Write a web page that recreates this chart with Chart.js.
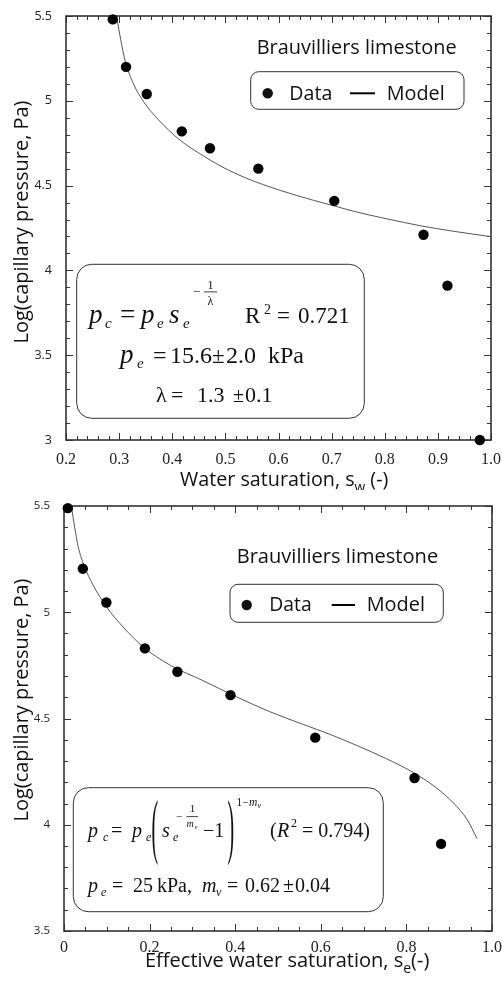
<!DOCTYPE html>
<html>
<head>
<meta charset="utf-8">
<script src="https://cdn.jsdelivr.net/npm/chart.js@4.4.0/dist/chart.umd.min.js"></script>
<style>
  html, body { margin: 0; padding: 0; background: #fff; }
  canvas { display: block; }
</style>
</head>
<body>
<canvas id="sw-chart" width="502" height="490"></canvas>
<canvas id="se-chart" width="502" height="495"></canvas>
<script>
// Datos medidos (log10 de la presión capilar en Pa)
const swData = [0.288, 0.313, 0.352, 0.418, 0.471, 0.562, 0.705, 0.873, 0.918, 0.979];
const logPcData = [5.48, 5.20, 5.04, 4.82, 4.72, 4.60, 4.41, 4.21, 3.91, 3.00];

// Curva del modelo Brooks-Corey
const swModel = [0.295, 0.303, 0.311, 0.327, 0.346, 0.374, 0.415, 0.452, 0.490, 0.540, 0.603, 0.666, 0.710, 0.741, 0.804, 0.866, 0.929, 1.000];
const logPcModelSw = [5.50, 5.36, 5.24, 5.10, 4.995, 4.888, 4.767, 4.688, 4.617, 4.543, 4.472, 4.413, 4.376, 4.349, 4.304, 4.264, 4.231, 4.199];

// Saturación efectiva
const seData = [0.009, 0.044, 0.099, 0.189, 0.265, 0.389, 0.587, 0.819, 0.881];
const logPcDataSe = [5.49, 5.205, 5.046, 4.83, 4.72, 4.61, 4.41, 4.22, 3.91];

// Curva del modelo van Genuchten
const seModel = [0.017, 0.025, 0.033, 0.048, 0.068, 0.099, 0.138, 0.185, 0.247, 0.325, 0.403, 0.481, 0.559, 0.622, 0.676, 0.754, 0.817, 0.871, 0.910, 0.942, 0.965];
const logPcModelSe = [5.50, 5.40, 5.31, 5.214, 5.128, 5.026, 4.931, 4.837, 4.752, 4.678, 4.602, 4.532, 4.472, 4.425, 4.380, 4.310, 4.245, 4.172, 4.102, 4.024, 3.935];

// Marcas de los ejes
const xTicksSw = [0.2, 0.3, 0.4, 0.5, 0.6, 0.7, 0.8, 0.9, 1.0];
const xLabelsSw = ['0.2', '0.3', '0.4', '0.5', '0.6', '0.7', '0.8', '0.9', '1.0'];
const yTicksSw = [3, 3.5, 4, 4.5, 5, 5.5];
const yLabelsSw = ['3', '3.5', '4', '4.5', '5', '5.5'];
const xTicksSe = [0, 0.2, 0.4, 0.6, 0.8, 1.0];
const xLabelsSe = ['0', '0.2', '0.4', '0.6', '0.8', '1.0'];
const yTicksSe = [3.5, 4, 4.5, 5, 5.5];
const yLabelsSe = ['3.5', '4', '4.5', '5', '5.5'];

const SANS = '"Open Sans", "Noto Sans", sans-serif';
const SERIF = '"Liberation Serif", "Times New Roman", serif';
const INK = '#111';

function toPoints(xs, ys) {
    return xs.map((x, i) => ({ x: x, y: ys[i] }));
}

// Texto simple
function put(ctx, text, x, y, size, style, family, align) {
    ctx.font = (style || 'normal') + ' ' + size + 'px ' + (family || SERIF);
    ctx.textAlign = align || 'left';
    ctx.textBaseline = 'alphabetic';
    ctx.fillText(text, x, y);
}

// Tamaño de letra para que el texto ocupe un ancho dado
function fitSize(ctx, text, width, family) {
    ctx.font = 'normal 100px ' + family;
    return 100 * width / ctx.measureText(text).width;
}

function roundBox(ctx, x0, y0, x1, y1, r) {
    ctx.beginPath();
    ctx.moveTo(x0 + r, y0);
    ctx.arcTo(x1, y0, x1, y1, r);
    ctx.arcTo(x1, y1, x0, y1, r);
    ctx.arcTo(x0, y1, x0, y0, r);
    ctx.arcTo(x0, y0, x1, y0, r);
    ctx.closePath();
    ctx.stroke();
}

// Paréntesis alto (texto estirado en vertical)
function bigParen(ctx, ch, x, yTop, yBot) {
    const s = 20;
    ctx.save();
    ctx.translate(x, yTop);
    ctx.scale(1, (yBot - yTop) / (0.871 * s));
    ctx.font = 'normal ' + s + 'px ' + SERIF;
    ctx.textAlign = 'left';
    ctx.textBaseline = 'alphabetic';
    ctx.fillText(ch, 0, 0.694 * s);
    ctx.restore();
}

// Texto con subíndice, ajustado a un ancho
function richLine(ctx, parts, x, y, width, family) {
    const total = parts.map(p => p.t).join('');
    const size = fitSize(ctx, total, width, family);
    let cx = x;
    parts.forEach(p => {
        const s = p.sub ? size * 0.7 : size;
        ctx.font = 'normal ' + s + 'px ' + family;
        ctx.textAlign = 'left';
        ctx.textBaseline = 'alphabetic';
        ctx.fillText(p.t, cx, p.sub ? y + size * 0.3 : y);
        cx += ctx.measureText(p.t).width;
    });
}

function yTitle(ctx, text, cx, cy, length) {
    const size = fitSize(ctx, text, length, SANS);
    ctx.save();
    ctx.translate(cx, cy);
    ctx.rotate(-Math.PI / 2);
    ctx.font = 'normal ' + size + 'px ' + SANS;
    ctx.textAlign = 'center';
    ctx.textBaseline = 'middle';
    ctx.fillText(text, 0, 0);
    ctx.restore();
}

function legendBlock(ctx, L) {
    ctx.fillStyle = INK;
    put(ctx, 'Brauvilliers limestone', L.titleX, L.titleY, fitSize(ctx, 'Brauvilliers limestone', L.titleW, SANS), 'normal', SANS);
    ctx.strokeStyle = '#333';
    ctx.lineWidth = 1;
    roundBox(ctx, L.box[0], L.box[1], L.box[2], L.box[3], 8);
    ctx.beginPath();
    ctx.arc(L.dotX, L.dotY, 5.2, 0, Math.PI * 2);
    ctx.fill();
    put(ctx, 'Data', L.dataX, L.textY, fitSize(ctx, 'Data', L.dataW, SANS), 'normal', SANS);
    ctx.lineWidth = 2;
    ctx.strokeStyle = '#000';
    ctx.beginPath();
    ctx.moveTo(L.lineX0, L.dotY);
    ctx.lineTo(L.lineX1, L.dotY);
    ctx.stroke();
    put(ctx, 'Model', L.modelX, L.textY, fitSize(ctx, 'Model', L.modelW, SANS), 'normal', SANS);
}

// Marco y marcas hacia dentro en los cuatro lados
function frameTicks(xMajors, xDiv, yMajors, yDiv) {
    return {
        id: 'frameTicks',
        beforeDatasetsDraw(chart) {
            const { ctx, chartArea: a, scales: { x, y } } = chart;
            ctx.save();
            ctx.strokeStyle = '#333';
            ctx.lineWidth = 1;
            ctx.beginPath();
            function vx(v, len) {
                const px = Math.round(x.getPixelForValue(v)) + 0.5;
                ctx.moveTo(px, a.bottom); ctx.lineTo(px, a.bottom - len);
                ctx.moveTo(px, a.top); ctx.lineTo(px, a.top + len);
            }
            function hy(v, len) {
                const py = Math.round(y.getPixelForValue(v)) + 0.5;
                ctx.moveTo(a.left, py); ctx.lineTo(a.left + len, py);
                ctx.moveTo(a.right, py); ctx.lineTo(a.right - len, py);
            }
            xMajors.forEach((v, i) => {
                vx(v, 7);
                if (i < xMajors.length - 1) {
                    const step = (xMajors[i + 1] - v) / xDiv;
                    for (let k = 1; k < xDiv; k++) vx(v + k * step, 4);
                }
            });
            yMajors.forEach((v, i) => {
                hy(v, 7);
                if (i < yMajors.length - 1) {
                    const step = (yMajors[i + 1] - v) / yDiv;
                    for (let k = 1; k < yDiv; k++) hy(v + k * step, 4);
                }
            });
            ctx.stroke();
            ctx.lineWidth = 1.6;
            ctx.strokeRect(a.left, a.top, a.right - a.left, a.bottom - a.top);
            ctx.restore();
        }
    };
}

function makeChart(id, cfg) {
    return new Chart(document.getElementById(id), {
        type: 'scatter',
        data: {
            datasets: [
                {
                    label: 'Data',
                    data: cfg.data,
                    pointRadius: 5.2,
                    pointBackgroundColor: '#000',
                    pointBorderWidth: 0,
                    showLine: false,
                    clip: false
                },
                {
                    label: 'Model',
                    data: cfg.model,
                    showLine: true,
                    pointRadius: 0,
                    borderColor: '#555',
                    borderWidth: 1,
                    cubicInterpolationMode: 'monotone'
                }
            ]
        },
        options: {
            responsive: false,
            animation: false,
            events: [],
            layout: { padding: cfg.padding },
            plugins: {
                legend: { display: false },
                tooltip: { enabled: false }
            },
            scales: {
                x: {
                    type: 'linear',
                    min: cfg.xTicks[0],
                    max: cfg.xTicks[cfg.xTicks.length - 1],
                    afterBuildTicks: s => { s.ticks = cfg.xTicks.map(v => ({ value: v })); },
                    afterFit: s => { s.height = cfg.xHeight; s.paddingLeft = 0; s.paddingRight = 0; },
                    grid: { display: false, drawTicks: false },
                    border: { display: false },
                    ticks: {
                        autoSkip: false,
                        maxRotation: 0,
                        padding: cfg.xPad,
                        color: '#222',
                        font: { family: SERIF, size: 16 },
                        callback: (v, i) => cfg.xLabels[i]
                    }
                },
                y: {
                    type: 'linear',
                    min: cfg.yTicks[0],
                    max: cfg.yTicks[cfg.yTicks.length - 1],
                    afterBuildTicks: s => { s.ticks = cfg.yTicks.map(v => ({ value: v })); },
                    afterFit: s => { s.width = cfg.yWidth; s.paddingTop = 0; s.paddingBottom = 0; },
                    grid: { display: false, drawTicks: false },
                    border: { display: false },
                    ticks: {
                        padding: 14,
                        color: '#222',
                        font: { family: SANS, size: cfg.ySize },
                        callback: (v, i) => cfg.yLabels[i]
                    }
                }
            }
        },
        plugins: [frameTicks(cfg.xTicks, cfg.xDiv, cfg.yTicks, 5), { id: 'notes', afterDraw: cfg.notes }]
    });
}

// Gráfico superior: saturación de agua
makeChart('sw-chart', {
    data: toPoints(swData, logPcData),
    model: toPoints(swModel, logPcModelSw),
    xTicks: xTicksSw, xLabels: xLabelsSw, xDiv: 5,
    yTicks: yTicksSw, yLabels: yLabelsSw, ySize: 12.5,
    padding: { top: 16, right: 11, left: 0, bottom: 0 },
    xHeight: 50, yWidth: 66, xPad: 10,
    notes(chart) {
        const ctx = chart.ctx;
        ctx.save();
        legendBlock(ctx, {
            titleX: 256.7, titleY: 54, titleW: 200,
            box: [250.7, 71.7, 464, 109.3],
            dotX: 267.7, dotY: 93.3, dataX: 289.3, dataW: 43, textY: 100,
            lineX0: 350, lineX1: 375, modelX: 386.7, modelW: 58
        });
        ctx.strokeStyle = '#333';
        ctx.lineWidth = 1;
        roundBox(ctx, 76.7, 264.3, 364.3, 418.3, 15);
        ctx.fillStyle = INK;
        // p_c = p_e s_e^(-1/λ)   R² = 0.721
        put(ctx, 'p', 89, 323, 27, 'italic');
        put(ctx, 'c', 105, 328, 15, 'italic');
        put(ctx, '=', 120, 323, 27);
        put(ctx, 'p', 141, 323, 27, 'italic');
        put(ctx, 'e', 157, 328, 15, 'italic');
        put(ctx, 's', 169, 323, 27, 'italic');
        put(ctx, 'e', 183, 328, 15, 'italic');
        put(ctx, '−', 193, 295.5, 13);
        put(ctx, '1', 210.5, 289, 12, 'normal', SERIF, 'center');
        put(ctx, 'λ', 210.5, 305, 12, 'normal', SERIF, 'center');
        ctx.fillRect(204, 291.5, 13, 0.8);
        put(ctx, 'R', 245, 323, 23);
        put(ctx, '2', 264, 314, 14);
        put(ctx, '=', 277, 323, 23);
        put(ctx, '0.721', 298, 323, 23);
        // p_e = 15.6 ± 2.0 kPa
        put(ctx, 'p', 120, 363, 27, 'italic');
        put(ctx, 'e', 137, 368, 15, 'italic');
        put(ctx, '=', 153, 363, 24);
        put(ctx, '15.6', 170, 363, 24);
        put(ctx, '±', 212, 363, 23);
        put(ctx, '2.0', 226, 363, 24);
        put(ctx, 'kPa', 268, 363, 24);
        // λ = 1.3 ± 0.1
        put(ctx, 'λ', 156, 402, 22);
        put(ctx, '=', 171, 402, 22);
        put(ctx, '1.3', 197, 402, 22);
        put(ctx, '±', 233, 402, 20);
        put(ctx, '0.1', 245, 402, 22);
        // Títulos de los ejes
        ctx.fillStyle = '#111';
        richLine(ctx, [{ t: 'Water saturation, s' }, { t: 'w', sub: true }, { t: ' (-)' }], 180, 486, 213, SANS);
        yTitle(ctx, 'Log(capillary pressure, Pa)', 22, 222, 243);
        ctx.restore();
    }
});

// Gráfico inferior: saturación efectiva
makeChart('se-chart', {
    data: toPoints(seData, logPcDataSe),
    model: toPoints(seModel, logPcModelSe),
    xTicks: xTicksSe, xLabels: xLabelsSe, xDiv: 4,
    yTicks: yTicksSe, yLabels: yLabelsSe, ySize: 11.5,
    padding: { top: 16, right: 10, left: 0, bottom: 0 },
    xHeight: 54, yWidth: 64, xPad: 7.5,
    notes(chart) {
        const ctx = chart.ctx;
        ctx.save();
        legendBlock(ctx, {
            titleX: 236.7, titleY: 73.3, titleW: 201.6,
            box: [230, 94.3, 443.3, 132.3],
            dotX: 246.7, dotY: 115, dataX: 269.3, dataW: 42.4, textY: 120.5,
            lineX0: 331.7, lineX1: 355, modelX: 366.7, modelW: 58.3
        });
        ctx.strokeStyle = '#333';
        ctx.lineWidth = 1;
        roundBox(ctx, 73.3, 297.7, 383.3, 421.7, 15);
        ctx.fillStyle = INK;
        // p_c = p_e ( s_e^(-1/m_v) - 1 )^(1-m_v)   (R² = 0.794)
        put(ctx, 'p', 88, 347, 20, 'italic');
        put(ctx, 'c', 103, 351, 12, 'italic');
        put(ctx, '=', 111, 347, 20);
        put(ctx, 'p', 132, 347, 20, 'italic');
        put(ctx, 'e', 146, 351, 12, 'italic');
        bigParen(ctx, '(', 151.5, 310, 373);
        put(ctx, 's', 162, 347, 20, 'italic');
        put(ctx, 'e', 173, 351, 12, 'italic');
        put(ctx, '−', 176, 330, 11);
        put(ctx, '1', 192.5, 321.5, 11, 'normal', SERIF, 'center');
        ctx.fillRect(186.5, 326.3, 11.5, 0.8);
        put(ctx, 'm', 186.5, 337, 10, 'italic');
        put(ctx, 'v', 194.5, 339, 7, 'italic');
        put(ctx, '−1', 203, 347, 20);
        bigParen(ctx, ')', 227.5, 310, 373);
        put(ctx, '1−', 236.5, 316, 11.5);
        put(ctx, 'm', 249, 316, 11.5, 'italic');
        put(ctx, 'v', 257.5, 318, 8, 'italic');
        put(ctx, '(', 270, 347, 20);
        put(ctx, 'R', 277, 347, 20, 'italic');
        put(ctx, '2', 291, 337, 12);
        put(ctx, '= 0.794)', 302, 347, 20);
        // p_e = 25 kPa, m_v = 0.62 ± 0.04
        put(ctx, 'p', 88, 402, 20, 'italic');
        put(ctx, 'e', 101, 406, 12, 'italic');
        put(ctx, '=', 112, 402, 20);
        put(ctx, '25', 133, 402, 20);
        put(ctx, 'kPa,', 157, 402, 20);
        put(ctx, 'm', 202, 402, 20, 'italic');
        put(ctx, 'v', 216, 406, 12, 'italic');
        put(ctx, '=', 227, 402, 20);
        put(ctx, '0.62', 245, 402, 20);
        put(ctx, '±', 283, 402, 20);
        put(ctx, '0.04', 295, 402, 20);
        // Títulos de los ejes
        ctx.fillStyle = '#111';
        richLine(ctx, [{ t: 'Effective water saturation, s' }, { t: 'e', sub: true }, { t: '(-)' }], 145, 476.7, 288, SANS);
        yTitle(ctx, 'Log(capillary pressure, Pa)', 22, 210, 243);
        ctx.restore();
    }
});
</script>
</body>
</html>
